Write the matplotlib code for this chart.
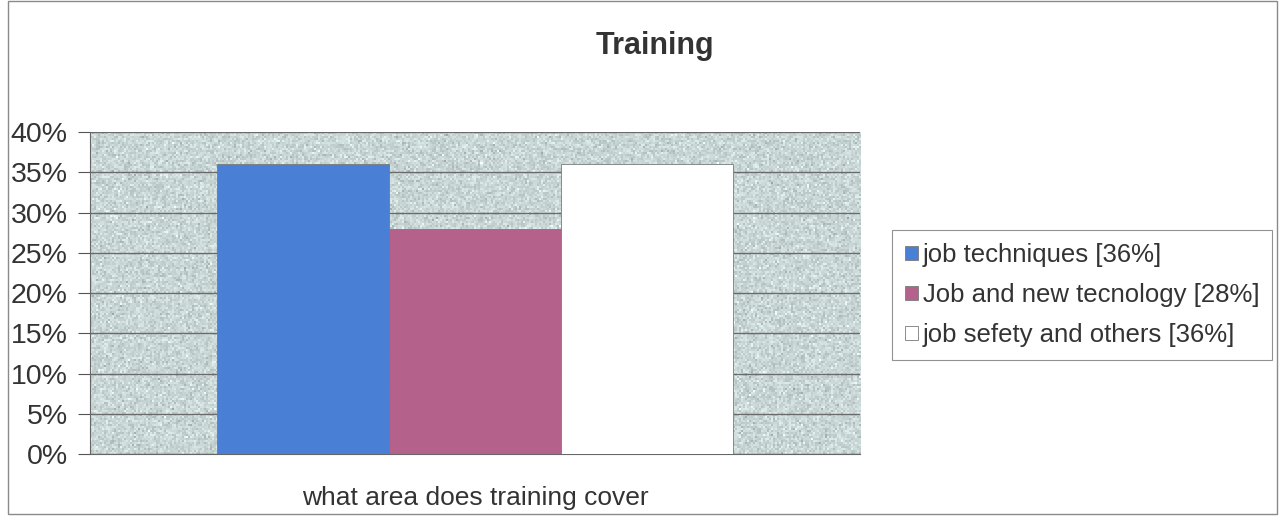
import numpy as np
import matplotlib.pyplot as plt
from matplotlib.patches import Rectangle

plt.rcParams['font.family'] = ['Liberation Sans', 'DejaVu Sans']

category = "what area does training cover"
series = ["job techniques", "Job and new tecnology", "job sefety and others"]
values = [36, 28, 36]
colors = ["#4a7fd6", "#b4628c", "#ffffff"]
yticks = [0, 5, 10, 15, 20, 25, 30, 35, 40]


def main():
    fig = plt.figure(figsize=(12.8, 5.16), dpi=100)
    ax = fig.add_axes([0.0703, 0.120, 0.6016, 0.624])

    # chart border around the whole figure
    fig.patches.append(Rectangle((0.006, 0.004), 0.992, 0.994, transform=fig.transFigure,
                                 fill=False, edgecolor="#8a8a8a", linewidth=1.0))

    # speckled plot-area fill
    rng = np.random.default_rng(3)
    base = np.array([0.79, 0.84, 0.84])
    grain = rng.normal(0, 0.05, (160, 385, 1))
    tex = np.clip(base + grain, 0, 1)
    ax.imshow(tex, aspect="auto", extent=(-2.24, 2.24, 0, 40), zorder=0.5,
              interpolation="nearest")

    offsets = np.arange(len(series)) - (len(series) - 1) / 2
    for off, name, val, col in zip(offsets, series, values, colors):
        ax.bar(off, val, width=1.0, color=col, edgecolor="#7a7a7a", linewidth=0.6,
               label=f"{name} [{val}%]", zorder=3)

    ax.set_xlim(-2.24, 2.24)
    ax.set_ylim(0, 40)
    ax.set_yticks(yticks)
    ax.set_yticklabels([f"{t}%" for t in yticks], fontsize=20.5, color="#333333")
    ax.yaxis.grid(True, color="#6a6a6a", linewidth=1.0, zorder=1)
    ax.set_axisbelow(True)
    ax.set_xticks([])
    ax.tick_params(axis='y', length=9, width=0.8, color="#555555", pad=7)
    for side in ["top", "right"]:
        ax.spines[side].set_visible(False)
    ax.spines["left"].set_color("#666666")
    ax.spines["bottom"].set_color("#666666")

    ax.set_xlabel(category, fontsize=19, color="#333333", labelpad=23)
    fig.text(0.512, 0.91, "Training", fontsize=22, fontweight="bold",
             color="#333333", ha="center", va="center")

    leg = fig.legend(loc="center left", bbox_to_anchor=(0.697, 0.428), fontsize=18.5,
                     frameon=True, fancybox=False, edgecolor="#777777",
                     handlelength=0.5, handleheight=0.5, handletextpad=0.2,
                     labelspacing=0.62, borderpad=0.5, borderaxespad=0)
    leg.get_frame().set_linewidth(0.8)
    for t in leg.get_texts():
        t.set_color("#333333")

    fig.savefig("out.png", dpi=100, facecolor="white")


if __name__ == "__main__":
    main()
